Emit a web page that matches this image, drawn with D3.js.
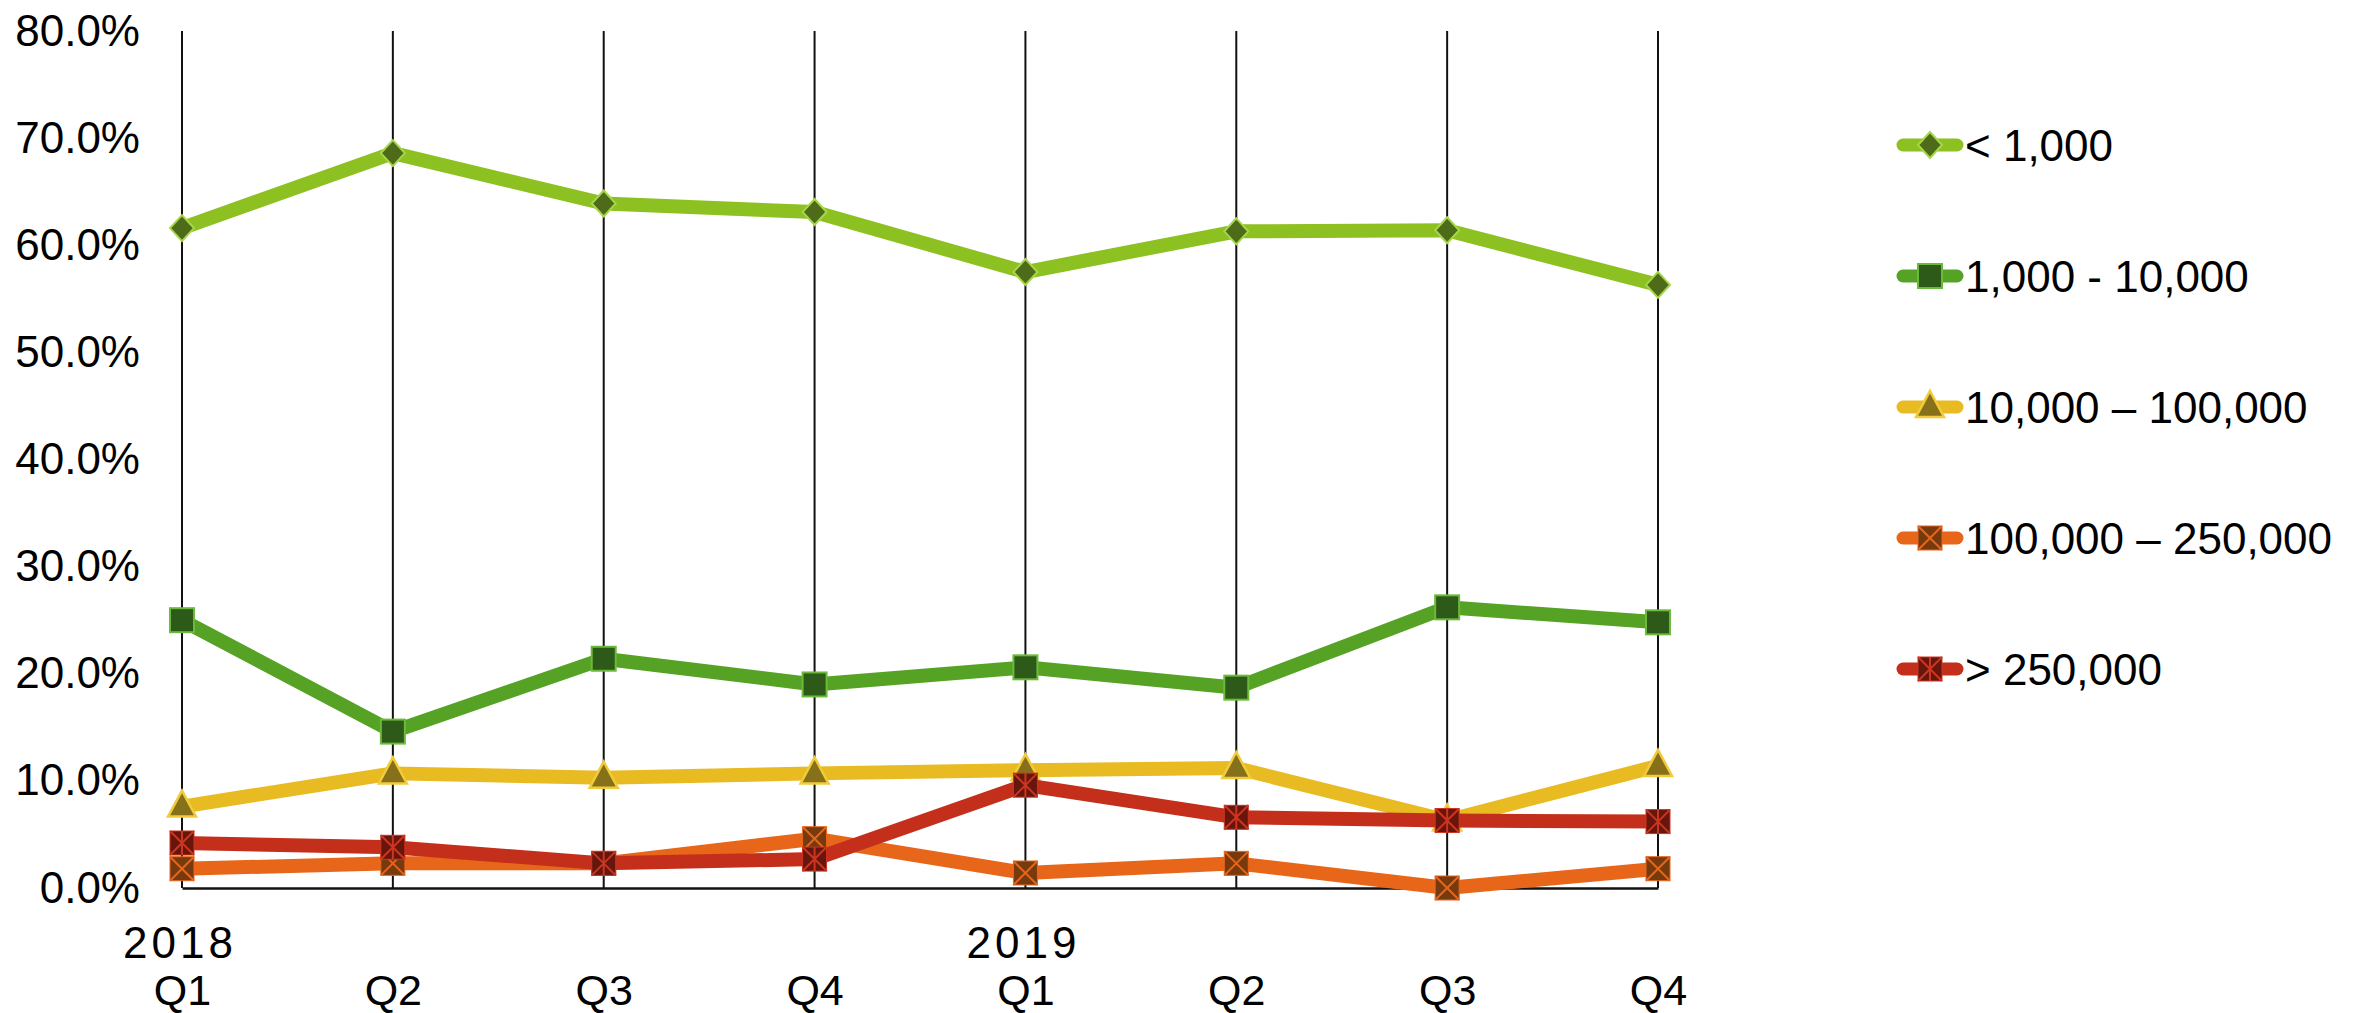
<!DOCTYPE html>
<html>
<head>
<meta charset="utf-8">
<script src="https://cdn.jsdelivr.net/npm/d3@7"></script>
<style>
  body { margin: 0; background: #fff; }
  svg { display: block; font-family: "Liberation Sans", Arial, sans-serif; }
</style>
</head>
<body>
<svg id="chart" width="2355" height="1013"></svg>
<script>
// categories (quarters) and the year shown under the first quarter of each year
const quarters = ['2018Q1', '2018Q2', '2018Q3', '2018Q4', '2019Q1', '2019Q2', '2019Q3', '2019Q4'];
const quarterLabels = ['Q1', 'Q2', 'Q3', 'Q4', 'Q1', 'Q2', 'Q3', 'Q4'];
const yearLabels = ['2018', '', '', '', '2019', '', '', ''];
const yTicks = [0, 0.1, 0.2, 0.3, 0.4, 0.5, 0.6, 0.7, 0.8];

// share per size band
const seriesNames = ['< 1,000', '1,000 - 10,000', '10,000 \u2013 100,000', '100,000 \u2013 250,000', '> 250,000'];
const under1k = [0.616, 0.686, 0.639, 0.631, 0.575, 0.613, 0.614, 0.563];
const from1kTo10k = [0.250, 0.146, 0.214, 0.190, 0.206, 0.187, 0.262, 0.248];
const from10kTo100k = [0.076, 0.107, 0.103, 0.107, 0.110, 0.112, 0.063, 0.114];
const from100kTo250k = [0.018, 0.023, 0.023, 0.046, 0.014, 0.023, 0.000, 0.018];
const over250k = [0.042, 0.038, 0.023, 0.027, 0.096, 0.066, 0.063, 0.062];

const seriesValues = [under1k, from1kTo10k, from10kTo100k, from100kTo250k, over250k];
const styles = [
  { line: '#8dc021', fill: '#4e6b19', edge: '#a6d64a', shape: 'diamond' },
  { line: '#55a224', fill: '#2d5a18', edge: '#6cba3c', shape: 'square' },
  { line: '#e8bb22', fill: '#86701a', edge: '#f2cb3a', shape: 'triangle' },
  { line: '#e8661a', fill: '#773a0f', edge: '#e8661a', shape: 'x' },
  { line: '#c42f1b', fill: '#68160d', edge: '#cc3520', shape: 'star' }
];

const svg = d3.select('#chart');
const margin = { top: 31, bottom: 125, left: 182, right: 697 };
const width = +svg.attr('width');
const height = +svg.attr('height');

const x = d3.scalePoint()
  .domain(quarters)
  .range([margin.left, width - margin.right]);

const y = d3.scaleLinear()
  .domain([0, 0.8])
  .range([height - margin.bottom, margin.top]);

// vertical grid lines at every quarter
svg.append('g')
  .selectAll('line')
  .data(quarters)
  .enter()
  .append('line')
  .attr('x1', d => x(d))
  .attr('x2', d => x(d))
  .attr('y1', y(0.8))
  .attr('y2', y(0))
  .attr('stroke', '#111')
  .attr('stroke-width', 2);

// y axis labels only
const yAxis = svg.append('g')
  .attr('transform', 'translate(' + margin.left + ',0)')
  .call(d3.axisLeft(y).tickValues(yTicks).tickFormat(d3.format('.1%')).tickSize(0).tickPadding(42));
yAxis.select('.domain').remove();
yAxis.selectAll('text')
  .attr('font-family', '"Liberation Sans Narrow", "Liberation Sans", Arial, sans-serif')
  .attr('font-size', 44)
  .attr('fill', '#000');

// x axis with the baseline
const xAxis = svg.append('g')
  .attr('transform', 'translate(0,' + y(0) + ')')
  .call(d3.axisBottom(x).tickSize(0).tickPadding(86).tickFormat((d, i) => quarterLabels[i]));
xAxis.select('.domain').attr('stroke', '#111').attr('stroke-width', 2.5);
xAxis.selectAll('text')
  .attr('font-size', 43)
  .attr('fill', '#000');

svg.append('g')
  .selectAll('text')
  .data(quarters.filter((d, i) => yearLabels[i]))
  .enter()
  .append('text')
  .attr('x', d => x(d) - 2)
  .attr('y', y(0) + 70)
  .attr('text-anchor', 'middle')
  .attr('font-size', 44)
  .attr('letter-spacing', 4)
  .text(d => yearLabels[quarters.indexOf(d)]);

// marker drawing used by plot and legend
function drawMarker(g, st) {
  const s = 12;
  if (st.shape === 'diamond') {
    g.append('path')
      .attr('d', 'M0,-13L12,0L0,13L-12,0Z')
      .attr('fill', st.fill).attr('stroke', st.edge).attr('stroke-width', 2);
  } else if (st.shape === 'triangle') {
    g.append('path')
      .attr('d', 'M0,-16L14,10L-14,10Z')
      .attr('fill', st.fill).attr('stroke', st.edge).attr('stroke-width', 2.5);
  } else {
    g.append('rect')
      .attr('x', -s).attr('y', -s).attr('width', 2 * s).attr('height', 2 * s)
      .attr('fill', st.fill).attr('stroke', st.edge).attr('stroke-width', st.shape === 'square' ? 2 : 1);
    if (st.shape === 'x' || st.shape === 'star') {
      g.append('path')
        .attr('d', 'M' + -s + ',' + -s + 'L' + s + ',' + s + 'M' + s + ',' + -s + 'L' + -s + ',' + s +
          (st.shape === 'star' ? 'M0,' + -s + 'L0,' + s : ''))
        .attr('stroke', st.edge).attr('stroke-width', 2).attr('fill', 'none');
    }
  }
}

const line = d3.line()
  .x((d, i) => x(quarters[i]))
  .y(d => y(d));

// lines and markers, later series on top
seriesValues.forEach((values, k) => {
  const st = styles[k];
  const g = svg.append('g');
  g.append('path')
    .attr('d', line(values))
    .attr('fill', 'none')
    .attr('stroke', st.line)
    .attr('stroke-width', 14)
    .attr('stroke-linejoin', 'round');
  values.forEach((v, i) => {
    drawMarker(g.append('g').attr('transform', 'translate(' + x(quarters[i]) + ',' + y(v) + ')'), st);
  });
});

// legend
const legendX = 1897;
const legendY = 145;
const legendStep = 131;
seriesNames.forEach((name, k) => {
  const st = styles[k];
  const g = svg.append('g').attr('transform', 'translate(' + legendX + ',' + (legendY + k * legendStep) + ')');
  g.append('line')
    .attr('x1', 6).attr('x2', 60)
    .attr('stroke', st.line)
    .attr('stroke-width', 13)
    .attr('stroke-linecap', 'round');
  drawMarker(g.append('g').attr('transform', 'translate(33,0)'), st);
  g.append('text')
    .attr('x', 68)
    .attr('y', 16)
    .attr('font-size', 44)
    .attr('fill', '#000')
    .text(name);
});
</script>
</body>
</html>
